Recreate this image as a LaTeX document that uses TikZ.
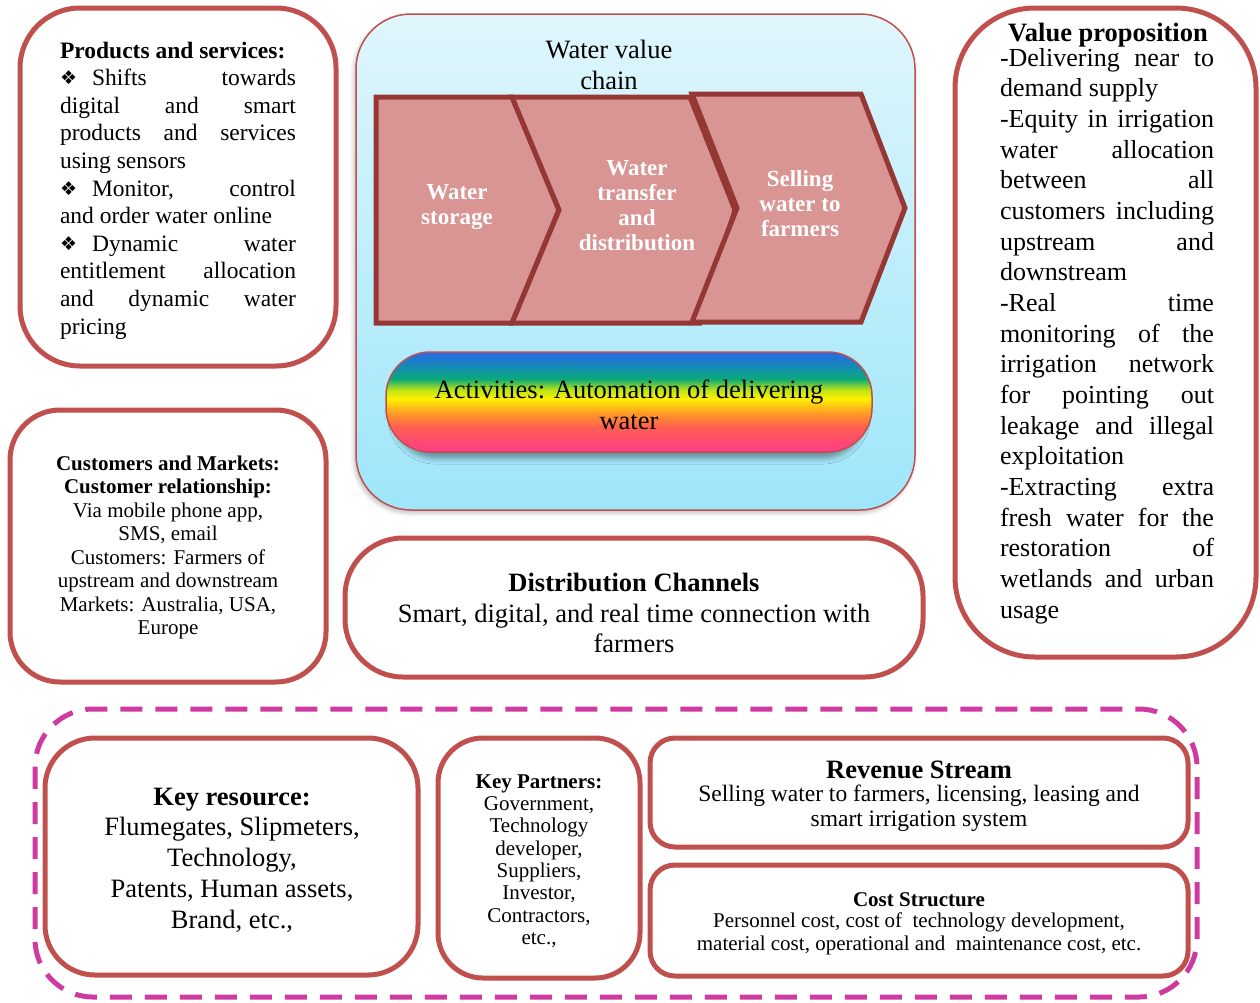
\documentclass[tikz,border=0pt]{standalone}
\usepackage{fontspec}
\setmainfont{Liberation Serif}
\newfontfamily\symfont{DejaVu Sans}
\usetikzlibrary{shadows.blur}

\definecolor{boxred}{RGB}{192,80,77}
\definecolor{chevfill}{RGB}{217,149,148}
\definecolor{chevline}{RGB}{149,55,53}
\definecolor{dashpink}{RGB}{207,58,160}
\definecolor{skytop}{RGB}{224,246,252}
\definecolor{skybot}{RGB}{158,230,250}
\definecolor{rbpink}{RGB}{255,58,140}
\definecolor{rbred}{RGB}{255,95,80}
\definecolor{rborange}{RGB}{255,150,40}
\definecolor{rbyellow}{RGB}{255,240,0}
\definecolor{rblime}{RGB}{190,228,20}
\definecolor{rbgreen}{RGB}{10,170,120}
\definecolor{rbteal}{RGB}{20,140,180}
\definecolor{rbblue}{RGB}{40,105,232}

% activities bar: rainbow from pink (bottom) to blue (top)
\pgfdeclareverticalshading{rainbowbar}{100bp}{%
  color(0bp)=(rbpink); color(25bp)=(rbpink); color(37.5bp)=(rbred);
  color(44bp)=(rborange); color(51.5bp)=(rbyellow); color(56bp)=(rblime);
  color(61.5bp)=(rbgreen); color(67.5bp)=(rbteal); color(75bp)=(rbblue);
  color(100bp)=(rbblue)}

\newcommand\setfs[2]{\fontsize{#1}{#2}\selectfont}
\newlength\jw
% justified and flush-left lines of a fixed width
\newcommand\jrow[1]{\makebox[\jw][s]{#1}}
\newcommand\lrow[1]{\makebox[\jw][l]{#1}}
\newcommand\bul{\raisebox{1pt}{\symfont\fontsize{19}{19}\selectfont ❖}\hspace{15pt}}

\begin{document}
\begin{tikzpicture}[x=1pt,y=-1pt,
  panel/.style={draw=boxred, line width=5pt, fill=white},
  chev/.style={draw=chevline, fill=chevfill, line width=5pt, line join=miter},
  txt/.style={inner sep=0pt, align=center},
  ltxt/.style={inner sep=0pt, align=left},
  chevtxt/.style={inner sep=0pt, align=center, text=white, font=\setfs{23}{25}\bfseries}]
\useasboundingbox (0,0) rectangle (1260,1002);

% ---------- outer dashed frame round the lower blocks ----------
\draw[dashpink, line width=5pt, dash pattern=on 22pt off 13pt, rounded corners=58pt]
  (35,709) rectangle (1197,997);

% ---------- panels ----------
\draw[panel, rounded corners=60pt] (20,8) rectangle (336,366);
\draw[panel, rounded corners=50pt] (10,410) rectangle (326,682);
\draw[panel, rounded corners=58pt] (345,538) rectangle (923,677);
\draw[panel, rounded corners=80pt] (955,8) rectangle (1256,657);
\draw[panel, rounded corners=50pt] (45,738) rectangle (418,975);
\draw[panel, rounded corners=45pt] (438,738) rectangle (640,978);
\draw[panel, rounded corners=25pt] (650,738) rectangle (1188,847);
\draw[panel, rounded corners=25pt] (650,865) rectangle (1188,976);

% ---------- value chain panel ----------
\draw[draw=boxred, line width=1.5pt, top color=skytop, bottom color=skybot,
      rounded corners=55pt,
      blur shadow={shadow xshift=-2pt, shadow yshift=-3pt, shadow blur radius=4pt, shadow opacity=25}]
  (356,14) rectangle (915,510);

\draw[chev] (376,97) -- (512,97) -- (559,210) -- (512,323) -- (376,323) -- cycle;
\draw[chev] (512,97) -- (690,97) -- (735,210) -- (700,323) -- (512,323) -- (559,210) -- cycle;
\draw[chev] (692,94) -- (861,94) -- (905,208) -- (861,322) -- (692,322) -- (737,208) -- cycle;

\draw[draw=boxred, line width=1.5pt, shading=rainbowbar, rounded corners=44pt,
      blur shadow={shadow xshift=0pt, shadow yshift=-8pt, shadow scale=0.97,
                   shadow blur radius=6pt, shadow opacity=40}]
  (386,352) rectangle (872,452);

% ---------- texts ----------
\node[txt, font=\setfs{26.5}{31}] (vctitle) at (609,65) {Water value\\chain};
\node[chevtxt] (storage) at (457,207) {Water\\storage};
\node[chevtxt] (transfer) at (637,206) {Water\\transfer\\and\\distribution};
\node[chevtxt] (selling) at (800,204) {Selling\\water to\\farmers};
\node[txt, font=\setfs{26.5}{31}] (activities) at (629,405)
  {Activities: Automation of delivering\\water};

\setlength\jw{236pt}
\node[ltxt, font=\setfs{23.5}{27.6}] (products) at (178,190.5) {%
  \lrow{\bfseries Products and services:}\\
  \jrow{\bul Shifts towards}\\
  \jrow{digital and smart}\\
  \jrow{products and services}\\
  \lrow{using sensors}\\
  \jrow{\bul Monitor, control}\\
  \lrow{and order water online}\\
  \jrow{\bul Dynamic water}\\
  \jrow{entitlement allocation}\\
  \jrow{and dynamic water}\\
  \lrow{pricing}};

\node[txt, font=\setfs{21}{23.5}] (customers) at (168,547.5) {%
  \textbf{Customers and Markets:}\\
  \textbf{Customer relationship:}\\
  Via mobile phone app,\\
  SMS, email\\
  Customers: Farmers of\\
  upstream and downstream\\
  Markets: Australia, USA,\\
  Europe};

\node[txt, font=\setfs{26.5}{30.5}] (distribution) at (634,613) {%
  \textbf{Distribution Channels}\\
  Smart, digital, and real time connection with\\
  farmers};

\node[txt, font=\setfs{26.5}{30}\bfseries] (vptitle) at (1108,35) {Value proposition};
\setlength\jw{214pt}
\node[ltxt, font=\setfs{26}{30.67}] (valueprop) at (1107,336) {%
  \jrow{-Delivering near to}\\
  \lrow{demand supply}\\
  \jrow{-Equity in irrigation}\\
  \jrow{water allocation}\\
  \jrow{between all}\\
  \jrow{customers including}\\
  \jrow{upstream and}\\
  \lrow{downstream}\\
  \jrow{-Real time}\\
  \jrow{monitoring of the}\\
  \jrow{irrigation network}\\
  \jrow{for pointing out}\\
  \jrow{leakage and illegal}\\
  \lrow{exploitation}\\
  \jrow{-Extracting extra}\\
  \jrow{fresh water for the}\\
  \jrow{restoration of}\\
  \jrow{wetlands and urban}\\
  \lrow{usage}};

\node[txt, font=\setfs{26.5}{30.8}] (resource) at (232,860) {%
  \textbf{Key resource:}\\
  Flumegates, Slipmeters,\\
  Technology,\\
  Patents, Human assets,\\
  Brand, etc.,};

\node[txt, font=\setfs{21}{22.3}] (partners) at (539,861) {%
  \textbf{Key Partners:}\\
  Government,\\
  Technology\\
  developer,\\
  Suppliers,\\
  Investor,\\
  Contractors,\\
  etc.,};

\node[txt, font=\setfs{26.5}{30}\bfseries] (revtitle) at (919,770) {Revenue Stream};
\node[txt, font=\setfs{23.5}{25}] (revbody) at (919,808.5) {%
  Selling water to farmers, licensing, leasing and\\
  smart irrigation system};

\node[txt, font=\setfs{21}{23}\bfseries] (costtitle) at (919,900) {Cost Structure};
\node[txt, font=\setfs{21}{23}] (costbody) at (919,933.5) {%
  Personnel cost, cost of \ technology development,\\
  material cost, operational and \ maintenance cost, etc.};
\end{tikzpicture}
\end{document}
